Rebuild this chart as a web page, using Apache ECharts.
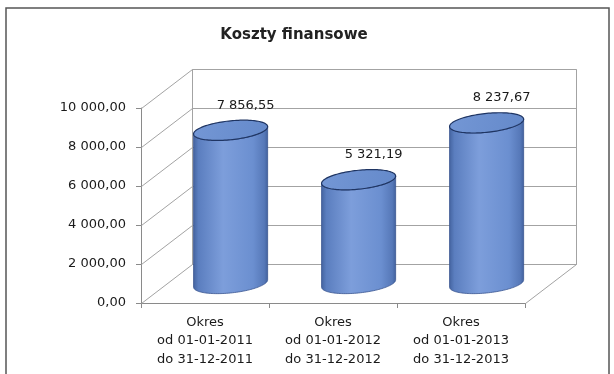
<!DOCTYPE html>
<html><head><meta charset="utf-8">
<script src="https://cdn.jsdelivr.net/npm/echarts@6/dist/echarts.min.js"></script>
<style>html,body{margin:0;padding:0;background:#fff}#c{width:614px;height:374px}</style>
</head><body><div id="c"></div>
<script>
const chartTitle = 'Koszty finansowe';
const categories = [
  'Okres\nod 01-01-2011\ndo 31-12-2011',
  'Okres\nod 01-01-2012\ndo 31-12-2012',
  'Okres\nod 01-01-2013\ndo 31-12-2013'
];
const values = [7856.55, 5321.19, 8237.67];
const yTicks = [0, 2000, 4000, 6000, 8000, 10000];

const FONT = 'DejaVu Sans';
function fmt(v){
  const s = Number(v).toFixed(2).split('.');
  return s[0].replace(/\B(?=(\d{3})+(?!\d))/g, ' ') + ',' + s[1];
}

function depthVec(api){
  const bw = api.size([1, 0], [0, 0])[0];
  const step = api.size([1, yTicks[1] - yTicks[0]], [0, 0])[1];
  return [bw * 0.4, -step];
}

function renderFrame(params, api){
  const cs = params.coordSys;
  const d = depthVec(api);
  const dx = d[0], dy = d[1];
  const L = Math.round(cs.x) + 0.5, R = Math.round(cs.x + cs.width) + 0.5;
  const ls = {stroke: '#a3a3a3', lineWidth: 1, fill: null};
  const yTop = api.coord([0, yTicks[yTicks.length - 1]])[1];
  const y0 = api.coord([0, yTicks[0]])[1];
  const bdx = Math.round(dx), bdy = Math.round(dy);
  const children = [];
  children.push({type: 'rect', shape: {x: L + bdx, y: Math.round(yTop) + bdy + 0.5, width: R - L, height: Math.round(y0) - Math.round(yTop)},
    style: {fill: '#fff', stroke: '#a3a3a3', lineWidth: 1}});
  yTicks.forEach(function(v){
    const y = Math.round(api.coord([0, v])[1]) + 0.5;
    children.push({type: 'line', shape: {x1: L, y1: y, x2: L + bdx, y2: y + bdy}, style: ls});
    children.push({type: 'line', shape: {x1: L + bdx, y1: y + bdy, x2: R + bdx, y2: y + bdy}, style: ls});
  });
  const yy0 = Math.round(y0) + 0.5;
  children.push({type: 'line', shape: {x1: R, y1: yy0, x2: R + bdx, y2: yy0 + bdy}, style: ls});
  return {type: 'group', children: children};
}

function renderCyl(params, api){
  const i = api.value(0), v = api.value(1);
  const d = depthVec(api);
  const dx = d[0], dy = d[1];
  const bw = api.size([1, 0], [i, v])[0];
  const top = api.coord([i, v]);
  const bot = api.coord([i, 0]);
  const cx = top[0] + dx * 0.5;
  const cyT = top[1] + dy * 0.5;
  const cyB = bot[1] + dy * 0.5;
  const rx = bw * 0.27;
  const bx = dx * 0.26, by = dy * 0.26;
  const N = 60;
  const t0 = Math.atan2(bx, rx);
  function pt(cy, t){ return [cx + rx * Math.cos(t) + bx * Math.sin(t), cy + by * Math.sin(t)]; }
  const side = [];
  for (let k = 0; k <= N; k++) side.push(pt(cyT, t0 - Math.PI * k / N));
  for (let k = 0; k <= N; k++) side.push(pt(cyB, t0 - Math.PI + Math.PI * k / N));
  const cap = [];
  for (let k = 0; k < 2 * N; k++) cap.push(pt(cyT, Math.PI * k / N));
  const sideFill = new echarts.graphic.LinearGradient(0, 0, 1, 0, [
    {offset: 0, color: '#43639f'},
    {offset: 0.07, color: '#5b7ebf'},
    {offset: 0.4, color: '#7d9edb'},
    {offset: 0.8, color: '#6b8fd0'},
    {offset: 0.95, color: '#5678b8'},
    {offset: 1, color: '#40609c'}
  ]);
  const capFill = new echarts.graphic.LinearGradient(0, 0, 1, 1, [
    {offset: 0, color: '#7497d5'},
    {offset: 1, color: '#6489ca'}
  ]);
  return {type: 'group', children: [
    {type: 'polygon', shape: {points: side}, style: {fill: sideFill, stroke: '#3a5590', lineWidth: 0.8}},
    {type: 'polygon', shape: {points: cap}, style: {fill: capFill, stroke: '#1f3563', lineWidth: 1.2}},
    {type: 'text', x: cx + 15, y: cyT - 25, style: {text: fmt(v), fill: '#1a1a1a', font: '13px "' + FONT + '"', align: 'center', verticalAlign: 'middle'}}
  ]};
}

const chart = echarts.init(document.getElementById('c'), null, {renderer: 'canvas'});
chart.setOption({
  animation: false,
  backgroundColor: '#fff',
  grid: {left: 141, right: 89, top: 108, bottom: 71, containLabel: false},
  xAxis: {
    type: 'category', data: categories, boundaryGap: true,
    axisLine: {show: true, lineStyle: {color: '#8a8a8a', width: 1}},
    axisTick: {show: true, alignWithLabel: false, length: 5, lineStyle: {color: '#8a8a8a'}},
    axisLabel: {interval: 0, margin: 10, fontFamily: FONT, fontSize: 13, color: '#1a1a1a', lineHeight: 18.5},
    splitLine: {show: false}
  },
  yAxis: {
    type: 'value', min: 0, max: 10000, interval: 2000,
    axisLine: {show: true, lineStyle: {color: '#8a8a8a', width: 1}},
    axisTick: {show: true, length: 5, lineStyle: {color: '#8a8a8a'}},
    axisLabel: {margin: 15, fontFamily: FONT, fontSize: 13, color: '#1a1a1a', formatter: fmt},
    splitLine: {show: false}
  },
  graphic: [
    {type: 'rect', silent: true, z: -10, shape: {x: 6, y: 8, width: 603, height: 400}, style: {fill: null, stroke: '#555', lineWidth: 1.5}},
    {type: 'text', x: 294, y: 35, style: {text: chartTitle, font: 'bold 15px "' + FONT + '"', fill: '#222', align: 'center', verticalAlign: 'middle'}}
  ],
  series: [
    {type: 'custom', name: 'frame', coordinateSystem: 'cartesian2d', renderItem: renderFrame, data: [[0, 0]], encode: {x: 0, y: 1}, z: 1, silent: true, clip: false},
    {type: 'custom', name: 'Koszty finansowe', coordinateSystem: 'cartesian2d', renderItem: renderCyl,
      data: values.map(function(v, i){ return [i, v]; }), encode: {x: 0, y: 1}, z: 3, clip: false}
  ]
});
</script>
</body></html>
